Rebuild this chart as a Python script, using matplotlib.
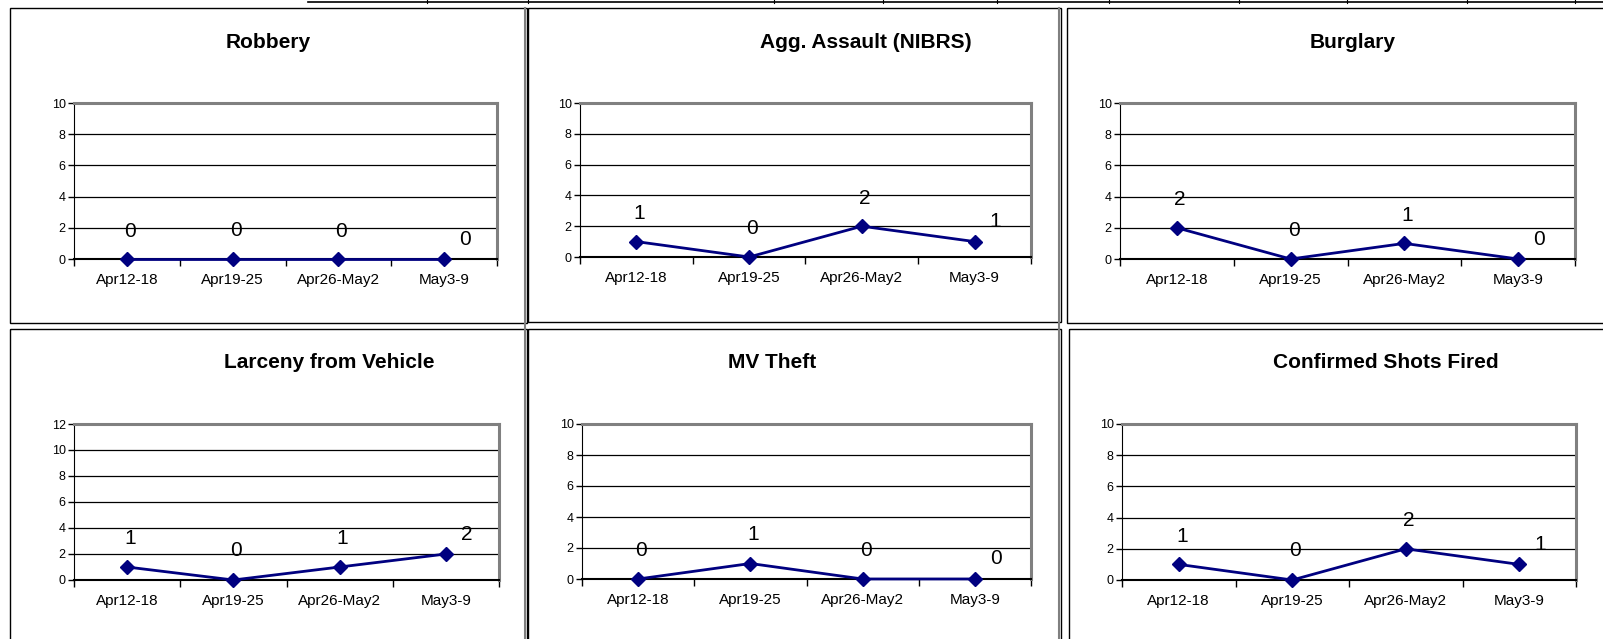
import matplotlib.pyplot as plt
from matplotlib.patches import Rectangle

plt.rcParams['font.family'] = ['Liberation Sans', 'DejaVu Sans']

# Data
weeks = ["Apr12-18", "Apr19-25", "Apr26-May2", "May3-9"]
titles = ["Robbery", "Agg. Assault (NIBRS)", "Burglary",
          "Larceny from Vehicle", "MV Theft", "Confirmed Shots Fired"]
robbery = [0, 0, 0, 0]
agg_assault = [1, 0, 2, 1]
burglary = [2, 0, 1, 0]
larceny_vehicle = [1, 0, 1, 2]
mv_theft = [0, 1, 0, 0]
shots_fired = [1, 0, 2, 1]
y_max = [10, 10, 10, 12, 10, 10]

series = [robbery, agg_assault, burglary, larceny_vehicle, mv_theft, shots_fired]

W, H = 1603, 639
fig = plt.figure(figsize=(W / 100, H / 100), dpi=100)

# background overlay in pixel coordinates for the panel frames
bg = fig.add_axes([0, 0, 1, 1], zorder=0)
bg.set_xlim(0, W)
bg.set_ylim(H, 0)
bg.axis('off')

panels = [(10, 8, 527, 323), (528, 8, 1061, 322), (1067, 8, 1640, 323),
          (10, 329, 527, 660), (528, 329, 1061, 660), (1069, 329, 1640, 660)]
for x0, y0, x1, y1 in panels:
    bg.add_patch(Rectangle((x0, y0), x1 - x0, y1 - y0, fill=False,
                           edgecolor='black', lw=1.0))
# gray separators between panels
for xs in (525, 1059):
    bg.plot([xs, xs], [8, 660], color='#808080', lw=1.5)

# leftover table line at the top
bg.plot([308, W], [1.5, 1.5], color='black', lw=1.2)
for xt in [427, 528, 774, 883, 997, 1109, 1239, 1347, 1467, 1575]:
    bg.plot([xt, xt], [0, 3], color='black', lw=0.8)

# axes boxes in pixels: left, right, top, bottom
boxes = [(74, 497, 103, 259), (580, 1031, 103, 257), (1120, 1575, 103, 259),
         (74, 499, 424, 580), (582, 1031, 424, 579), (1122, 1576, 424, 580)]
title_pos = [(268, 42), (866, 42), (1353, 42), (329, 362), (772, 362), (1386, 362)]
label_offsets = [(3, 28), (3, 29), (3, 28), (21, 20)]

for k in range(6):
    l, r, t, b = boxes[k]
    ax = fig.add_axes([l / W, 1 - b / H, (r - l) / W, (b - t) / H], zorder=2)
    vals = series[k]
    x = list(range(len(weeks)))
    ax.plot(x, vals, color='#000080', lw=2, marker='D', ms=7,
            markerfacecolor='#000080', markeredgecolor='#000080', clip_on=False, zorder=4)
    for i, v in enumerate(vals):
        dx, dy = label_offsets[i]
        ax.annotate(str(v), (i, v), xytext=(dx, dy), textcoords='offset pixels',
                    ha='center', va='center', fontsize=15, color='black', zorder=5)

    ax.set_xlim(-0.5, len(weeks) - 0.5)
    ax.set_ylim(0, y_max[k])
    ax.set_yticks(range(0, y_max[k] + 1, 2))
    ax.tick_params(axis='y', labelsize=9, length=4, width=1, direction='out', pad=2)
    ax.set_xticks([i - 0.5 for i in range(len(weeks) + 1)])
    ax.set_xticklabels([])
    ax.set_xticks(x, minor=True)
    ax.set_xticklabels(weeks, minor=True)
    ax.tick_params(axis='x', which='major', length=5, width=1, direction='out')
    ax.tick_params(axis='x', which='minor', length=0, labelsize=11, pad=10)

    ax.grid(axis='y', color='black', lw=0.9)
    ax.set_axisbelow(True)
    ax.spines['left'].set_color('black')
    ax.spines['bottom'].set_color('black')
    ax.spines['bottom'].set_linewidth(1.5)
    ax.spines['top'].set_color('#808080')
    ax.spines['top'].set_linewidth(2.2)
    ax.spines['right'].set_color('#808080')
    ax.spines['right'].set_linewidth(2.2)

    tx, ty = title_pos[k]
    bg.text(tx, ty, titles[k], ha='center', va='center', fontsize=15,
            fontweight='bold', color='black')

plt.savefig('out.png', dpi=100)
